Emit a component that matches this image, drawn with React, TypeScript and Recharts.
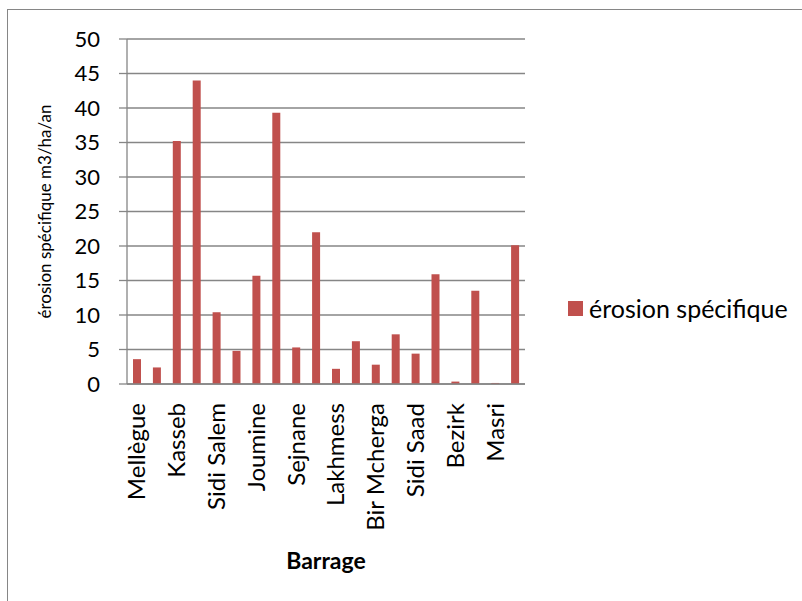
import { BarChart, Bar, XAxis, YAxis, CartesianGrid } from "recharts";

// barrages (une étiquette sur deux est affichée sur l'axe)
const barrages = [
  "Mellègue", "Ben Métir", "Kasseb", "Bou Heurtma", "Sidi Salem",
  "Siliana", "Joumine", "Ghezala", "Sejnane", "Sidi El Barrak",
  "Lakhmess", "Rmel", "Bir Mcherga", "Nebhana", "Sidi Saad",
  "El Haouareb", "Bezirk", "Chiba", "Masri", "Lebna"
];
const erosion = [
  3.6, 2.4, 35.2, 44.0, 10.4,
  4.8, 15.7, 39.3, 5.3, 22.0,
  2.2, 6.2, 2.8, 7.2, 4.4,
  15.9, 0.35, 13.5, 0.15, 20.1
];
const yTicks = [0, 5, 10, 15, 20, 25, 30, 35, 40, 45, 50];

const data = barrages.map((b, i) => ({ barrage: b, erosion: erosion[i] }));

const FONT = "Lato, 'Open Sans', sans-serif";
const GRIS = "#868686";
const ROUGE = "#C0504D";

const XTick = ({ x, y, payload }: any) => (
  <g transform={`translate(${x},${y + 11})`}>
    <text transform="rotate(-90)" textAnchor="end" dy="0.35em" fontSize={24} fill="#000" fontFamily={FONT}>
      {payload.value}
    </text>
  </g>
);

export default function App() {
  return (
    <div style={{ position: "absolute", left: 0, top: 0, width: 802, height: 601, background: "#fff", overflow: "hidden" }}>
      <div style={{ position: "absolute", left: 7, top: 9, width: 820, height: 620, border: `1.3px solid ${GRIS}` }} />
      <div style={{ position: "absolute", left: 0, top: 0 }}>
        <BarChart
          width={802}
          height={601}
          data={data}
          margin={{ top: 39, right: 277, left: 0, bottom: 0 }}
          barCategoryGap={0}
        >
          <CartesianGrid vertical={false} stroke={GRIS} strokeWidth={1.3} />
          <XAxis
            dataKey="barrage"
            interval={1}
            height={217}
            tickLine={false}
            axisLine={{ stroke: GRIS, strokeWidth: 1.3 }}
            tick={<XTick />}
            label={{ value: "Barrage", position: "insideBottom", offset: 32, fontSize: 23, fontWeight: 700, fill: "#000", fontFamily: FONT }}
          />
          <YAxis
            width={127}
            domain={[0, 50]}
            ticks={yTicks}
            tickSize={8}
            tickMargin={19}
            tickLine={{ stroke: GRIS, strokeWidth: 1.3 }}
            axisLine={{ stroke: GRIS, strokeWidth: 1.3 }}
            tick={{ fontSize: 22, fill: "#000", fontFamily: FONT }}
            label={{ value: "érosion spécifique m3/ha/an", angle: -90, position: "insideLeft", offset: 45, fontSize: 17, fill: "#000", fontFamily: FONT, style: { textAnchor: "middle" } }}
          />
          <Bar dataKey="erosion" name="érosion spécifique" fill={ROUGE} barSize={8} isAnimationActive={false} />
        </BarChart>
      </div>
      <div style={{ position: "absolute", left: 568, top: 293, display: "flex", alignItems: "center", fontFamily: FONT, fontSize: 25, color: "#000", whiteSpace: "nowrap" }}>
        <span style={{ width: 15, height: 15, background: ROUGE, marginRight: 6, display: "inline-block" }} />
        érosion spécifique
      </div>
    </div>
  );
}
